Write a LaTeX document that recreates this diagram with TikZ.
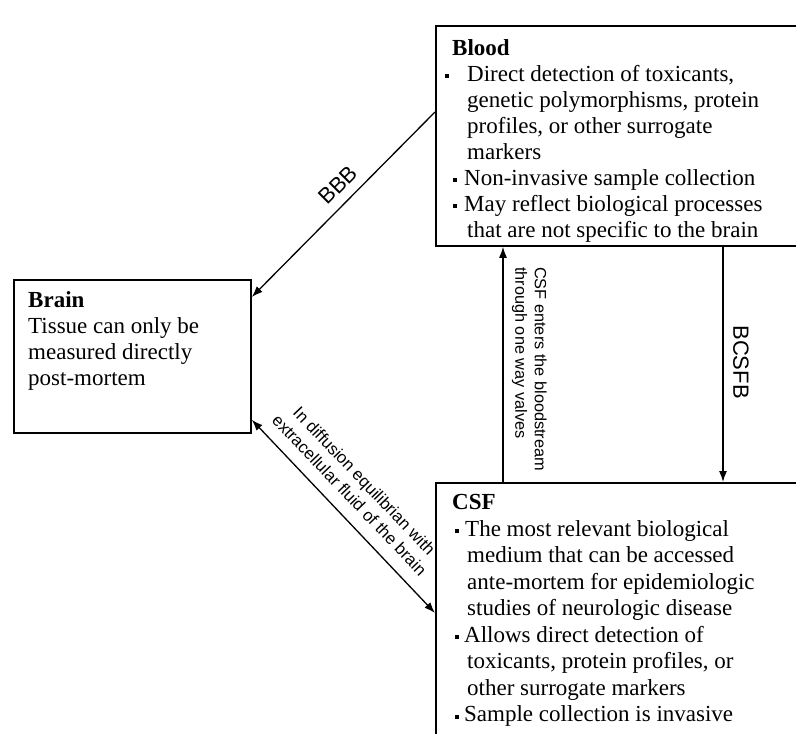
\documentclass[tikz,border=0pt]{standalone}
\usepackage{fontspec}
\setmainfont{Liberation Serif}
\newfontfamily\labfont{Liberation Sans}
\usetikzlibrary{arrows.meta}
\newcommand{\bsq}{\rule[3pt]{4pt}{4pt}}
\begin{document}
\begin{tikzpicture}[x=1pt,y=-1pt,
  box/.style={draw, line width=1.8pt, rectangle, inner sep=0pt, anchor=north west},
  txt/.style={anchor=north west, inner sep=0pt, align=left, font=\fontsize{23}{26}\selectfont},
  arr/.style={line width=1.3pt, -{Latex[length=11pt,width=8pt]}},
  lab/.style={inner sep=0pt, font=\labfont\fontsize{22}{26}\selectfont}]
\clip (0,0) rectangle (796,734);
\fill[white] (0,0) rectangle (796,734);
% boxes
\node[box, minimum width=420pt, minimum height=220pt] (blood) at (435,25) {};
\node[box, minimum width=237pt, minimum height=153pt] (brain) at (13,279) {};
\node[box, minimum width=420pt, minimum height=300pt] (csf) at (435,482) {};
% texts
\begin{scope}
\clip (437,27) rectangle (796,243.8);
\node[txt] (bloodtxt) at (440,35) {\rule{0pt}{20pt}\hspace*{12pt}\textbf{Blood}\\
\makebox[27pt][l]{\hspace*{5pt}\bsq}Direct detection of toxicants,\\
\hspace*{27pt}genetic polymorphisms, protein\\
\hspace*{27pt}profiles, or other surrogate\\
\hspace*{27pt}markers\\
\makebox[24pt][l]{\hspace*{13pt}\bsq}Non-invasive sample collection\\
\makebox[24pt][l]{\hspace*{13pt}\bsq}May reflect biological processes\\
\hspace*{27pt}that are not specific to the brain};
\end{scope}
\node[txt] (braintxt) at (28,287) {\rule{0pt}{20pt}\textbf{Brain}\\
Tissue can only be\\
measured directly\\
post-mortem};
\node[txt, font=\fontsize{23}{26.5}\selectfont] (csftxt) at (440,489.5) {\rule{0pt}{20pt}\hspace*{12pt}\textbf{CSF}\\
\makebox[25pt][l]{\hspace*{15pt}\bsq}The most relevant biological\\
\hspace*{27pt}medium that can be accessed\\
\hspace*{27pt}ante-mortem for epidemiologic\\
\hspace*{27pt}studies of neurologic disease\\
\makebox[24pt][l]{\hspace*{15pt}\bsq}Allows direct detection of\\
\hspace*{27pt}toxicants, protein profiles, or\\
\hspace*{27pt}other surrogate markers\\
\makebox[24pt][l]{\hspace*{15pt}\bsq}Sample collection is invasive};
% connectors
\draw[arr] ([yshift=-87pt]blood.north west) -- ([yshift=-18pt]brain.north east);
\draw[arr] ([xshift=68pt]csf.north west) -- ([xshift=68pt]blood.south west);
\draw[arr] ([xshift=288pt]blood.south west) -- ([xshift=288pt]csf.north west);
\draw[line width=1.3pt, {Latex[length=11pt,width=8pt]}-{Latex[length=11pt,width=8pt]}] ([yshift=14pt]brain.south east) -- ([yshift=-131pt]csf.north west);
% labels
\node[lab, rotate=45] (bbb) at (338,185) {BBB};
\node[lab, rotate=-90] (bcsfb) at (741,362) {BCSFB};
\node[lab, rotate=-90, anchor=north west, align=left, font=\labfont\fontsize{16.3}{19.5}\selectfont] (valves) at (547,267) {CSF enters the bloodstream\\through one way valves};
\node[lab, rotate=-46.3, align=center, font=\labfont\fontsize{16.8}{20.5}\selectfont] (diff) at (357,488) {In diffusion equilibrian with\\extracellular fluid of the brain};
\end{tikzpicture}
\end{document}
